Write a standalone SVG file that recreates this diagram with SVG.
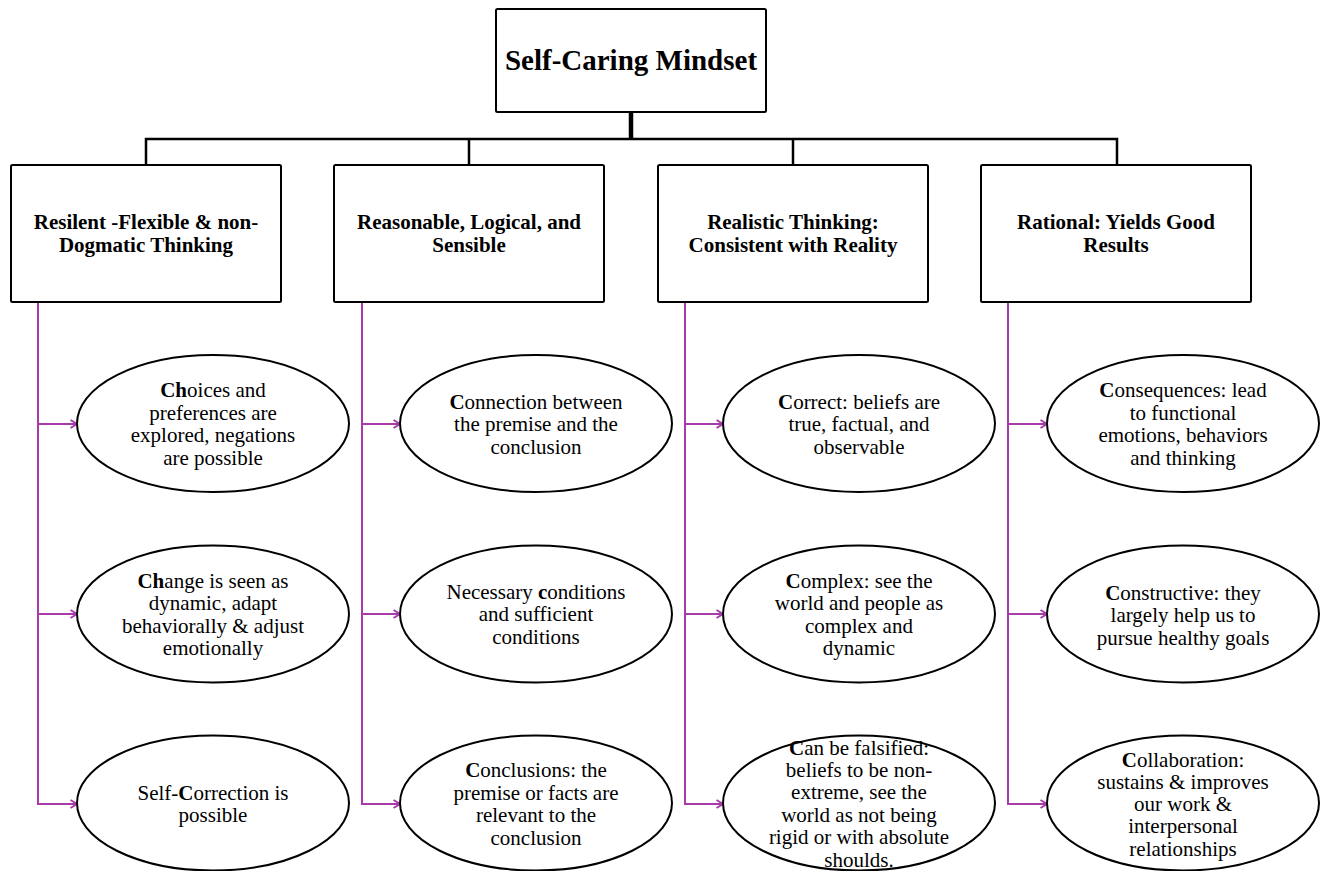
<svg xmlns="http://www.w3.org/2000/svg" width="1326" height="871" viewBox="0 0 1326 871">
  <style>
    .box { fill: #ffffff; stroke: #000000; stroke-width: 2; }
    .oval { fill: #ffffff; stroke: #000000; stroke-width: 2; }
    .title { font-family: "Liberation Serif", "Times New Roman", serif; font-weight: bold; font-size: 29px; fill: #000; text-anchor: middle; }
    .head { font-family: "Liberation Serif", "Times New Roman", serif; font-weight: bold; font-size: 21px; fill: #000; text-anchor: middle; }
    .body { font-family: "Liberation Serif", "Times New Roman", serif; font-size: 21px; fill: #000; text-anchor: middle; }
    .b { font-weight: bold; }
    .tree { fill: none; stroke: #000000; stroke-width: 2.5; }
    .trunk { fill: none; stroke: #000000; stroke-width: 4.5; }
    .branch { fill: none; stroke: #a63ba9; stroke-width: 2; }
  </style>
  <defs>
    <marker id="arrow" markerUnits="userSpaceOnUse" markerWidth="10" markerHeight="12" refX="7.5" refY="5" orient="auto">
      <path d="M1,1 L7.5,5 L1,9" fill="none" stroke="#a63ba9" stroke-width="2"/>
    </marker>
  </defs>

  <rect width="1326" height="871" fill="#ffffff"/>

  <!-- connectors -->
  <g id="connectors">
    <line class="trunk" x1="631" y1="112" x2="631" y2="139"/>
    <polyline class="tree" points="146,166 146,139 1117,139 1117,166"/>
    <line class="tree" x1="469" y1="139" x2="469" y2="166"/>
    <line class="tree" x1="793" y1="139" x2="793" y2="166"/>

    <!-- column 1 -->
    <line class="branch" x1="38" y1="302" x2="38" y2="805"/>
    <line class="branch" x1="38" y1="424" x2="77" y2="424" marker-end="url(#arrow)"/>
    <line class="branch" x1="38" y1="614" x2="77" y2="614" marker-end="url(#arrow)"/>
    <line class="branch" x1="38" y1="804" x2="77" y2="804" marker-end="url(#arrow)"/>
    <!-- column 2 -->
    <line class="branch" x1="362" y1="302" x2="362" y2="805"/>
    <line class="branch" x1="362" y1="424" x2="400" y2="424" marker-end="url(#arrow)"/>
    <line class="branch" x1="362" y1="614" x2="400" y2="614" marker-end="url(#arrow)"/>
    <line class="branch" x1="362" y1="804" x2="400" y2="804" marker-end="url(#arrow)"/>
    <!-- column 3 -->
    <line class="branch" x1="685" y1="302" x2="685" y2="805"/>
    <line class="branch" x1="685" y1="424" x2="723" y2="424" marker-end="url(#arrow)"/>
    <line class="branch" x1="685" y1="614" x2="723" y2="614" marker-end="url(#arrow)"/>
    <line class="branch" x1="685" y1="804" x2="723" y2="804" marker-end="url(#arrow)"/>
    <!-- column 4 -->
    <line class="branch" x1="1008" y1="302" x2="1008" y2="805"/>
    <line class="branch" x1="1008" y1="424" x2="1047" y2="424" marker-end="url(#arrow)"/>
    <line class="branch" x1="1008" y1="614" x2="1047" y2="614" marker-end="url(#arrow)"/>
    <line class="branch" x1="1008" y1="804" x2="1047" y2="804" marker-end="url(#arrow)"/>
  </g>

  <!-- root -->
  <g id="root">
    <rect class="box" x="496" y="9" width="270" height="103" rx="1.5"/>
    <text class="title" x="631" y="70">Self-Caring Mindset</text>
  </g>

  <!-- category boxes -->
  <g id="resilient">
    <rect class="box" x="11" y="165" width="270" height="137" rx="1.5"/>
    <text class="head" x="146" y="229">Resilent -Flexible &amp; non-</text>
    <text class="head" x="146" y="252">Dogmatic Thinking</text>
  </g>
  <g id="reasonable">
    <rect class="box" x="334" y="165" width="270" height="137" rx="1.5"/>
    <text class="head" x="469" y="229">Reasonable, Logical, and</text>
    <text class="head" x="469" y="252">Sensible</text>
  </g>
  <g id="realistic">
    <rect class="box" x="658" y="165" width="270" height="137" rx="1.5"/>
    <text class="head" x="793" y="229">Realistic Thinking:</text>
    <text class="head" x="793" y="252">Consistent with Reality</text>
  </g>
  <g id="rational">
    <rect class="box" x="981" y="165" width="270" height="137" rx="1.5"/>
    <text class="head" x="1116" y="229">Rational: Yields Good</text>
    <text class="head" x="1116" y="252">Results</text>
  </g>

  <!-- column 1 ovals -->
  <g id="choices">
    <ellipse class="oval" cx="213" cy="423.5" rx="136" ry="68.5"/>
    <text class="body" x="213" y="397"><tspan class="b">Ch</tspan>oices and</text>
    <text class="body" x="213" y="419.5">preferences are</text>
    <text class="body" x="213" y="442">explored, negations</text>
    <text class="body" x="213" y="464.5">are possible</text>
  </g>
  <g id="change">
    <ellipse class="oval" cx="213" cy="614" rx="136" ry="68.5"/>
    <text class="body" x="213" y="587.5"><tspan class="b">Ch</tspan>ange is seen as</text>
    <text class="body" x="213" y="610">dynamic, adapt</text>
    <text class="body" x="213" y="632.5">behaviorally &amp; adjust</text>
    <text class="body" x="213" y="655">emotionally</text>
  </g>
  <g id="self-correction">
    <ellipse class="oval" cx="213" cy="803" rx="136" ry="67.5"/>
    <text class="body" x="213" y="799.5">Self-<tspan class="b">C</tspan>orrection is</text>
    <text class="body" x="213" y="822">possible</text>
  </g>

  <!-- column 2 ovals -->
  <g id="connection">
    <ellipse class="oval" cx="536" cy="423.5" rx="136" ry="68.5"/>
    <text class="body" x="536" y="408.5"><tspan class="b">C</tspan>onnection between</text>
    <text class="body" x="536" y="431">the premise and the</text>
    <text class="body" x="536" y="453.5">conclusion</text>
  </g>
  <g id="conditions">
    <ellipse class="oval" cx="536" cy="614" rx="136" ry="68.5"/>
    <text class="body" x="536" y="598.5">Necessary <tspan class="b">c</tspan>onditions</text>
    <text class="body" x="536" y="621">and sufficient</text>
    <text class="body" x="536" y="643.5">conditions</text>
  </g>
  <g id="conclusions">
    <ellipse class="oval" cx="536" cy="803" rx="136" ry="67.5"/>
    <text class="body" x="536" y="777"><tspan class="b">C</tspan>onclusions: the</text>
    <text class="body" x="536" y="799.5">premise or facts are</text>
    <text class="body" x="536" y="822">relevant to the</text>
    <text class="body" x="536" y="844.5">conclusion</text>
  </g>

  <!-- column 3 ovals -->
  <g id="correct">
    <ellipse class="oval" cx="859" cy="423.5" rx="136" ry="68.5"/>
    <text class="body" x="859" y="408.5"><tspan class="b">C</tspan>orrect: beliefs are</text>
    <text class="body" x="859" y="431">true, factual, and</text>
    <text class="body" x="859" y="453.5">observable</text>
  </g>
  <g id="complex">
    <ellipse class="oval" cx="859" cy="614" rx="136" ry="68.5"/>
    <text class="body" x="859" y="587.5"><tspan class="b">C</tspan>omplex: see the</text>
    <text class="body" x="859" y="610">world and people as</text>
    <text class="body" x="859" y="632.5">complex and</text>
    <text class="body" x="859" y="655">dynamic</text>
  </g>
  <g id="falsified">
    <ellipse class="oval" cx="859" cy="803" rx="136" ry="67.5"/>
    <text class="body" x="859" y="754.5"><tspan class="b">C</tspan>an be falsified:</text>
    <text class="body" x="859" y="776.9">beliefs to be non-</text>
    <text class="body" x="859" y="799.3">extreme, see the</text>
    <text class="body" x="859" y="821.7">world as not being</text>
    <text class="body" x="859" y="844.1">rigid or with absolute</text>
    <text class="body" x="859" y="866.5">shoulds.</text>
  </g>

  <!-- column 4 ovals -->
  <g id="consequences">
    <ellipse class="oval" cx="1183" cy="423.5" rx="136" ry="68.5"/>
    <text class="body" x="1183" y="397"><tspan class="b">C</tspan>onsequences: lead</text>
    <text class="body" x="1183" y="419.5">to functional</text>
    <text class="body" x="1183" y="442">emotions, behaviors</text>
    <text class="body" x="1183" y="464.5">and thinking</text>
  </g>
  <g id="constructive">
    <ellipse class="oval" cx="1183" cy="614" rx="136" ry="68.5"/>
    <text class="body" x="1183" y="599.5"><tspan class="b">C</tspan>onstructive: they</text>
    <text class="body" x="1183" y="622">largely help us to</text>
    <text class="body" x="1183" y="644.5">pursue healthy goals</text>
  </g>
  <g id="collaboration">
    <ellipse class="oval" cx="1183" cy="803" rx="136" ry="67.5"/>
    <text class="body" x="1183" y="766.5"><tspan class="b">C</tspan>ollaboration:</text>
    <text class="body" x="1183" y="788.75">sustains &amp; improves</text>
    <text class="body" x="1183" y="811">our work &amp;</text>
    <text class="body" x="1183" y="833.25">interpersonal</text>
    <text class="body" x="1183" y="855.5">relationships</text>
  </g>
</svg>
